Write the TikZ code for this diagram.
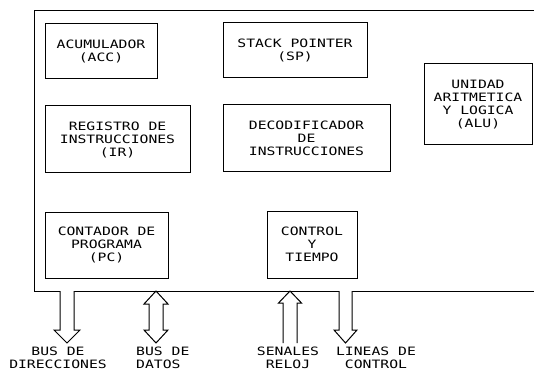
\documentclass[tikz,border=0pt]{standalone}
\usepackage{fontspec}
\newfontfamily\lett{DejaVu Sans Mono}[FakeStretch=1.28]
\newcommand{\lettsize}{\lett\fontsize{11.5}{13}\selectfont}
\tikzset{
  box/.style={draw, line width=1pt, inner sep=0pt, align=center, font=\lettsize},
  lbl/.style={inner sep=0pt, font=\lettsize},
  blk/.style={draw, line width=1pt, fill=white, line join=miter},
  frame/.style={draw, line width=1pt}
}
\begin{document}
\begin{tikzpicture}[x=1pt,y=-1pt]
\useasboundingbox (0,0) rectangle (534,371);
% outer frame
\draw[frame] (534,11) -- (34,11) -- (34,291) -- (534,291);
% boxes
\node[box, minimum width=112, minimum height=55] (acc) at (101,51.5) {ACUMULADOR\\(ACC)};
\node[box, minimum width=144, minimum height=55] (sp) at (295,50.5) {STACK POINTER\\(SP)};
\node[box, minimum width=145, minimum height=67] (ir) at (117.5,139.5) {REGISTRO DE\\INSTRUCCIONES\\(IR)};
\node[box, minimum width=167, minimum height=67] (dec) at (306.5,138.5) {DECODIFICADOR\\DE\\INSTRUCCIONES};
\node[box, minimum width=108, minimum height=81] (alu) at (478,104.5) {UNIDAD\\ARITMETICA\\Y LOGICA\\(ALU)};
\node[box, minimum width=123, minimum height=66] (pc) at (106.5,245) {CONTADOR DE\\PROGRAMA\\(PC)};
\node[box, minimum width=90, minimum height=67] (ctl) at (312,244.5) {CONTROL\\Y\\TIEMPO};
% arrow anchors on the frame
\coordinate (dirtop) at (67,291);
\coordinate (dattop) at (156,291);
\coordinate (reltop) at (290,291);
\coordinate (ctltop) at (345.5,291);
% hollow arrows
\draw[blk, shift={(dirtop)}] (-7,0) -- (-7,39) -- (-13,39) -- (0,52) -- (13,39) -- (7,39) -- (7,0);
\draw[blk, shift={(dattop)}] (0,0) -- (12,13) -- (7,13) -- (7,39) -- (12,39) -- (0,52) -- (-12,39) -- (-7,39) -- (-7,13) -- (-12,13) -- cycle;
\draw[blk, shift={(reltop)}] (-7,52) -- (-7,12) -- (-11.5,12) -- (0,0) -- (11.5,12) -- (7,12) -- (7,52);
\draw[blk, shift={(ctltop)}] (-6.5,0) -- (-6.5,39) -- (-11.5,39) -- (0,52) -- (11.5,39) -- (6.5,39) -- (6.5,0);
% labels
\node[lbl, align=center] (dirlab) at (58,358) {BUS DE\\DIRECCIONES};
\node[lbl, align=left, anchor=west] (datlab) at (136,358) {BUS DE\\DATOS};
\node[lbl, align=center] (rellab) at (288,358) {SENALES\\RELOJ};
\node[lbl, align=center] (ctllab) at (376,358) {LINEAS DE\\CONTROL};
\end{tikzpicture}
\end{document}
